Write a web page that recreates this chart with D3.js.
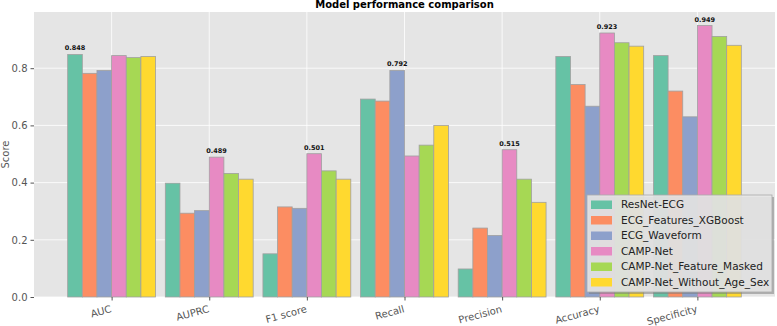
<!DOCTYPE html>
<html>
<head>
<meta charset="utf-8">
<script src="https://cdn.jsdelivr.net/npm/d3@7"></script>
<style>
  body { margin: 0; background: #fff; }
  text { font-family: "DejaVu Sans", sans-serif; }
</style>
</head>
<body>
<svg id="chart" width="777" height="326"></svg>
<script>
// metrics on the x axis
var metrics = ["AUC", "AUPRC", "F1 score", "Recall", "Precision", "Accuracy", "Specificity"];
var models = ["ResNet-ECG", "ECG_Features_XGBoost", "ECG_Waveform", "CAMP-Net", "CAMP-Net_Feature_Masked", "CAMP-Net_Without_Age_Sex"];

// one array per model, same order as metrics
var resnet   = [0.848, 0.398, 0.151, 0.692, 0.098, 0.841, 0.844];
var xgboost  = [0.782, 0.293, 0.315, 0.685, 0.241, 0.743, 0.720];
var waveform = [0.792, 0.302, 0.310, 0.792, 0.215, 0.667, 0.630];
var campnet  = [0.844, 0.489, 0.501, 0.493, 0.515, 0.923, 0.949];
var masked   = [0.837, 0.432, 0.441, 0.531, 0.412, 0.889, 0.911];
var noAgeSex = [0.841, 0.412, 0.412, 0.600, 0.331, 0.877, 0.880];

var yTicks = [0.0, 0.2, 0.4, 0.6, 0.8];

var series = [resnet, xgboost, waveform, campnet, masked, noAgeSex];
var colors = ["#66c2a5", "#fc8d62", "#8da0cb", "#e78ac3", "#a6d854", "#ffd92f"];

var margin = {top: 12, right: 2, bottom: 29, left: 34},
    W = 777, H = 326,
    width = W - margin.left - margin.right,
    height = H - margin.top - margin.bottom;

var barW = 0.15;
var ymax = d3.max(series, s => d3.max(s)) * 1.05;

var xScale = d3.scaleLinear().domain([-0.795, metrics.length - 1 + 0.795]).range([0, width]);
var yScale = d3.scaleLinear().domain([0, ymax]).range([height, 0]);

var svg = d3.select("#chart");
var g = svg.append("g").attr("transform", "translate(" + margin.left + "," + margin.top + ")");

// ggplot style background
g.append("rect").attr("width", width).attr("height", height).attr("fill", "#e5e5e5");

// grid
g.append("g").selectAll("line").data(yTicks).enter().append("line")
  .attr("x1", 0).attr("x2", width)
  .attr("y1", d => yScale(d)).attr("y2", d => yScale(d))
  .attr("stroke", "#fff").attr("stroke-width", 0.8);
g.append("g").selectAll("line").data(metrics).enter().append("line")
  .attr("x1", (d, i) => xScale(i)).attr("x2", (d, i) => xScale(i))
  .attr("y1", 0).attr("y2", height)
  .attr("stroke", "#fff").attr("stroke-width", 0.8);

// bars
series.forEach(function(vals, k) {
  g.append("g").attr("class", "bar")
    .selectAll("rect").data(vals).enter().append("rect")
      .attr("x", (d, i) => xScale(i + (k - 2.5) * barW - barW / 2))
      .attr("y", d => yScale(d))
      .attr("width", xScale(barW) - xScale(0))
      .attr("height", d => height - yScale(d))
      .attr("fill", colors[k])
      .attr("stroke", "#a0a0a0")
      .attr("stroke-width", 0.8);
});

// label the best model in each metric
metrics.forEach(function(m, i) {
  var best = 0;
  series.forEach(function(s, k) { if (s[i] > series[best][i]) best = k; });
  g.append("text")
    .attr("x", xScale(i + (best - 2.5) * barW))
    .attr("y", yScale(series[best][i]) - 4)
    .attr("text-anchor", "middle")
    .style("font-size", "6.5px").style("font-weight", "bold").attr("fill", "#111")
    .text(series[best][i].toFixed(3));
});

// axes
var xAxis = d3.axisBottom(xScale)
  .tickValues(d3.range(metrics.length))
  .tickFormat((d, i) => metrics[i])
  .tickSize(3.5).tickSizeOuter(0);
var xg = g.append("g").attr("transform", "translate(0," + height + ")").call(xAxis);
xg.select(".domain").remove();
xg.selectAll(".tick line").attr("stroke", "#555");
xg.selectAll("text")
  .style("font-size", "10px").attr("fill", "#555")
  .attr("text-anchor", "end")
  .attr("dy", null).attr("y", null)
  .attr("transform", "translate(0,15) rotate(-15)");

var yAxis = d3.axisLeft(yScale).tickValues(yTicks).tickFormat(d3.format(".1f")).tickSize(3.5);
var yg = g.append("g").call(yAxis);
yg.select(".domain").remove();
yg.selectAll(".tick line").attr("stroke", "#555");
yg.selectAll("text").style("font-size", "10px").attr("fill", "#555");

svg.append("text")
  .attr("transform", "translate(9," + (margin.top + height / 2) + ") rotate(-90)")
  .attr("text-anchor", "middle")
  .style("font-size", "10px").attr("fill", "#555")
  .text("Score");

svg.append("text")
  .attr("x", margin.left + width / 2).attr("y", 8)
  .attr("text-anchor", "middle")
  .style("font-size", "10px").style("font-weight", "bold")
  .text("Model performance comparison");

// legend
var lg = svg.append("g").attr("transform", "translate(587,195)");
lg.append("rect").attr("x", 2).attr("y", 2).attr("width", 185).attr("height", 97)
  .attr("fill", "#777").attr("opacity", 0.5);
lg.append("rect").attr("width", 185).attr("height", 97)
  .attr("fill", "#e5e5e5").attr("fill-opacity", 0.9)
  .attr("stroke", "#aaa").attr("stroke-width", 0.8);
var items = lg.selectAll(".item").data(models).enter().append("g")
  .attr("transform", (d, i) => "translate(4," + (9.5 + i * 15.5) + ")");
items.append("rect").attr("x", 0).attr("y", -4).attr("width", 21).attr("height", 8.5)
  .attr("fill", (d, i) => colors[i]);
items.append("text").attr("x", 30).attr("y", 3.8)
  .style("font-size", "10.5px").attr("fill", "#222")
  .text(d => d);
</script>
</body>
</html>
